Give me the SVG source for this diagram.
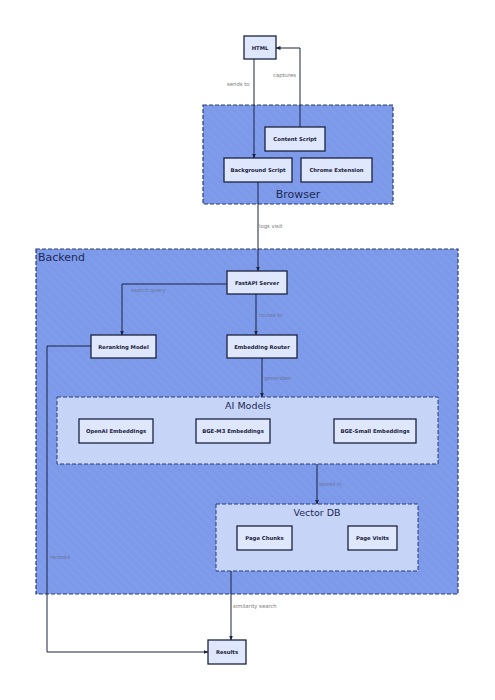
<svg xmlns="http://www.w3.org/2000/svg" width="495" height="700" viewBox="0 0 495 700">
<defs>
<style>
.grp{fill:#7d9aea;stroke:#2a3a78;stroke-width:1.2;stroke-dasharray:4 2}
.sub{fill:#c6d4f7;stroke:#2a3a78;stroke-width:1;stroke-dasharray:4 2}
.node{fill:#dfe7fc;stroke:#1b2340;stroke-width:1.3}
.nl{font-family:"DejaVu Sans",sans-serif;font-size:5.3px;font-weight:bold;fill:#1b2340;text-anchor:middle}
.gl{font-family:"DejaVu Sans",sans-serif;fill:#1e2a55}
.el{font-family:"DejaVu Sans",sans-serif;font-size:5.3px;fill:#6b75a0}
.eo{font-family:"DejaVu Sans",sans-serif;font-size:5.3px;fill:#777}
.edge{fill:none;stroke:#1b2340;stroke-width:1}
</style>
<marker id="ah" viewBox="0 0 10 10" refX="9" refY="5" markerWidth="5" markerHeight="5" orient="auto">
<path d="M0,1 L10,5 L0,9 z" fill="#1b2340"/>
</marker>
<pattern id="hatch" width="6" height="6" patternUnits="userSpaceOnUse" patternTransform="rotate(-45)">
<line x1="0" y1="0" x2="0" y2="6" stroke="#ffffff" stroke-opacity="0.08" stroke-width="1"/>
</pattern>
</defs>
<rect width="495" height="700" fill="#ffffff"/>

<g id="browser">
<rect class="grp" x="203" y="105" width="190" height="99"/>
<rect x="203" y="105" width="190" height="99" fill="url(#hatch)"/>
<text class="gl" x="298" y="198" font-size="11" text-anchor="middle">Browser</text>
</g>

<g id="backend">
<rect class="grp" x="36" y="249" width="422" height="345"/>
<rect x="36" y="249" width="422" height="345" fill="url(#hatch)"/>
<text class="gl" x="38" y="261" font-size="11">Backend</text>
</g>

<g id="ai-models">
<rect class="sub" x="57" y="397" width="381" height="67"/>
<text class="gl" x="248" y="409" font-size="9.5" text-anchor="middle">AI Models</text>
</g>

<g id="vector-db">
<rect class="sub" x="216" y="504" width="202" height="67"/>
<text class="gl" x="317" y="516" font-size="9.5" text-anchor="middle">Vector DB</text>
</g>

<g id="connectors">
<path class="edge" d="M254,59 L254,158" marker-end="url(#ah)"/>
<path class="edge" d="M300,127 L300,48 L276,48" marker-end="url(#ah)"/>
<path class="edge" d="M258,182 L258,271" marker-end="url(#ah)"/>
<path class="edge" d="M227,284 L122,284 L122,335" marker-end="url(#ah)"/>
<path class="edge" d="M256,294 L256,335" marker-end="url(#ah)"/>
<path class="edge" d="M262,358 L262,397" marker-end="url(#ah)"/>
<path class="edge" d="M317,464 L317,504" marker-end="url(#ah)"/>
<path class="edge" d="M231,571 L231,640" marker-end="url(#ah)"/>
<path class="edge" d="M91,346 L47,346 L47,652 L208,652" marker-end="url(#ah)"/>
<text class="eo" x="227" y="86">sends to</text>
<text class="eo" x="273" y="77">captures</text>
<text class="eo" x="259" y="228">logs visit</text>
<text class="el" x="131" y="292">search query</text>
<text class="el" x="259" y="317">routes to</text>
<text class="el" x="264" y="380">generates</text>
<text class="el" x="319" y="486">stores in</text>
<text class="eo" x="233" y="608">similarity search</text>
<text class="el" x="50" y="559">reranks</text>
</g>

<g id="html"><rect class="node" x="244" y="36" width="32" height="23"/><text class="nl" x="260" y="49.5">HTML</text></g>
<g id="content-script"><rect class="node" x="265" y="127" width="60" height="24"/><text class="nl" x="295" y="141">Content Script</text></g>
<g id="background-script"><rect class="node" x="224" y="158" width="68" height="24"/><text class="nl" x="258" y="172">Background Script</text></g>
<g id="chrome-extension"><rect class="node" x="301" y="158" width="71" height="24"/><text class="nl" x="336.5" y="172">Chrome Extension</text></g>
<g id="fastapi-server"><rect class="node" x="227" y="271" width="60" height="23"/><text class="nl" x="257" y="284.5">FastAPI Server</text></g>
<g id="reranking-model"><rect class="node" x="91" y="335" width="65" height="23"/><text class="nl" x="123.5" y="348.5">Reranking Model</text></g>
<g id="embedding-router"><rect class="node" x="227" y="335" width="70" height="23"/><text class="nl" x="262" y="348.5">Embedding Router</text></g>
<g id="openai-embeddings"><rect class="node" x="79" y="419" width="74" height="24"/><text class="nl" x="116" y="433">OpenAI Embeddings</text></g>
<g id="bge-m3-embeddings"><rect class="node" x="196" y="419" width="74" height="24"/><text class="nl" x="233" y="433">BGE-M3 Embeddings</text></g>
<g id="bge-small-embeddings"><rect class="node" x="334" y="419" width="82" height="24"/><text class="nl" x="375" y="433">BGE-Small Embeddings</text></g>
<g id="page-chunks"><rect class="node" x="237" y="526" width="55" height="24"/><text class="nl" x="264.5" y="540">Page Chunks</text></g>
<g id="page-visits"><rect class="node" x="348" y="526" width="49" height="24"/><text class="nl" x="372.5" y="540">Page Visits</text></g>
<g id="results"><rect class="node" x="208" y="640" width="38" height="24"/><text class="nl" x="227" y="654">Results</text></g>
</svg>
